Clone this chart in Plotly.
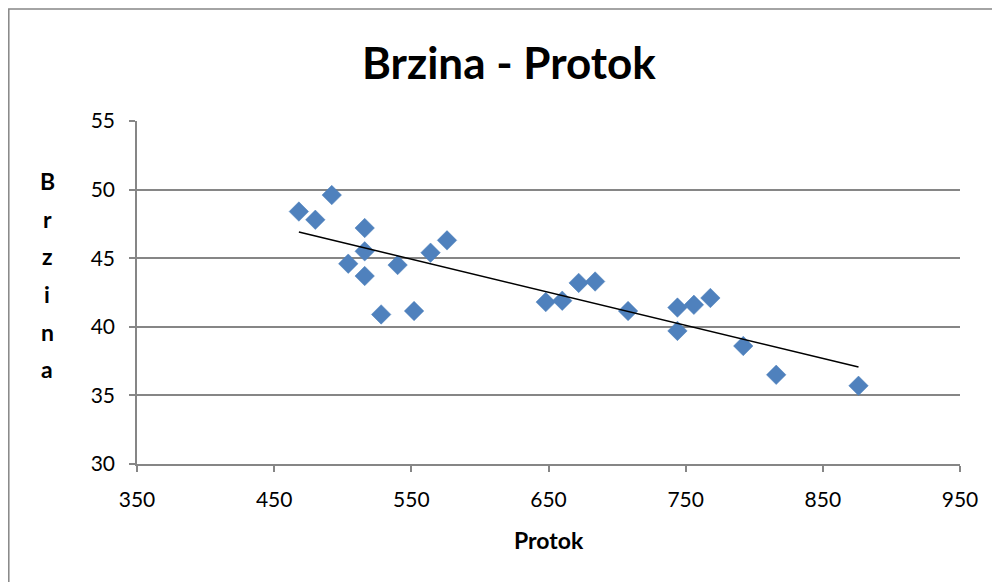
import numpy as np
import plotly.graph_objects as go

protok = [468, 480, 492, 504, 516, 516, 516, 528, 540, 552, 564, 576,
          648, 660, 672, 684, 708, 744, 744, 756, 768, 792, 816, 876]
brzina = [48.4, 47.8, 49.6, 44.6, 47.2, 45.5, 43.7, 40.9, 44.5, 41.15, 45.4, 46.3,
          41.8, 41.9, 43.2, 43.3, 41.15, 41.4, 39.7, 41.6, 42.1, 38.6, 36.5, 35.7]
x_ticks = [350, 450, 550, 650, 750, 850, 950]
y_ticks = [30, 35, 40, 45, 50, 55]
title_text = "Brzina - Protok"
x_title = "Protok"
y_title = "Brzina"

slope, intercept = np.polyfit(protok, brzina, 1)
tx = [min(protok), max(protok)]
ty = [slope * v + intercept for v in tx]

FONT = "Lato"
GRID = "#868686"

fig = go.Figure()
fig.add_trace(go.Scatter(
    x=protok, y=brzina, mode="markers",
    marker=dict(symbol="diamond", size=15, color="#4F81BD",
                line=dict(color="#4A7EBB", width=0.5)),
    showlegend=False, hoverinfo="x+y"))
fig.add_trace(go.Scatter(
    x=tx, y=ty, mode="lines", line=dict(color="black", width=1.5),
    showlegend=False, hoverinfo="skip"))

# page body has an 8px margin; work in page pixels and shift
OFF = 8
W, H = 992, 574
L = 137 - OFF
T = 121 - OFF
R = W - (960 - OFF)
B = H - (464 - OFF)
pw, ph = W - L - R, H - T - B

def px(xp):
    return (xp - OFF - L) / pw

def py(yp):
    return 1 - (yp - OFF - T) / ph

annotations = [
    dict(text="<b>" + title_text + "</b>", x=px(509), y=py(62), xref="paper", yref="paper",
         showarrow=False, font=dict(family=FONT, size=44, color="black"),
         xanchor="center", yanchor="middle"),
    dict(text="<b>" + x_title + "</b>", x=px(549), y=py(540), xref="paper", yref="paper",
         showarrow=False, font=dict(family=FONT, size=23, color="black"),
         xanchor="center", yanchor="middle"),
]
letter_y = [181, 219, 256, 294, 332, 369]
for ch, yy in zip(y_title, letter_y):
    annotations.append(dict(text="<b>" + ch + "</b>", x=px(47), y=py(yy), xref="paper", yref="paper",
                            showarrow=False, font=dict(family=FONT, size=23, color="black"),
                            xanchor="center", yanchor="middle"))

fig.update_layout(
    width=W, height=H,
    margin=dict(l=L, r=R, t=T, b=B),
    paper_bgcolor="white", plot_bgcolor="white",
    font=dict(family=FONT, color="black"),
    annotations=annotations,
    shapes=[dict(type="rect", xref="paper", yref="paper",
                 x0=px(8.8), x1=px(995), y0=py(640), y1=py(9),
                 line=dict(color=GRID, width=1.5), fillcolor="rgba(0,0,0,0)", layer="below")],
    xaxis=dict(range=[350, 950], tickvals=x_ticks, ticktext=[str(v) for v in x_ticks],
               showgrid=False, zeroline=False, showline=True, linecolor=GRID, linewidth=1.5,
               ticks="outside", ticklen=6, tickcolor=GRID, tickwidth=1.5,
               tickfont=dict(family=FONT, size=21, color="black"), ticklabelstandoff=10),
    yaxis=dict(range=[30, 55], tickvals=y_ticks, ticktext=[str(v) for v in y_ticks],
               showgrid=True, gridcolor=GRID, gridwidth=1.5, zeroline=False,
               showline=True, linecolor=GRID, linewidth=1.5,
               ticks="outside", ticklen=6, tickcolor=GRID, tickwidth=1.5,
               tickfont=dict(family=FONT, size=21, color="black"), ticklabelstandoff=10),
)

fig.write_html("out.html")
